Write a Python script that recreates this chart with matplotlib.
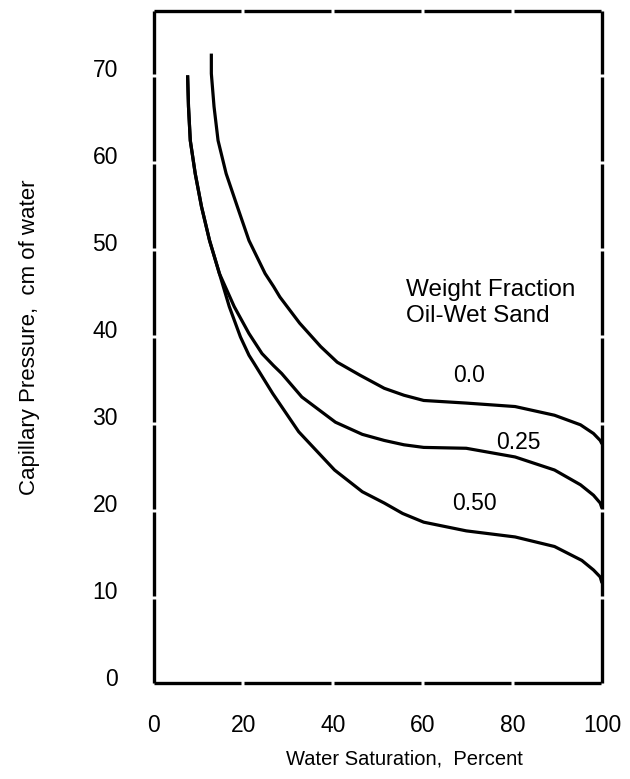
import matplotlib
matplotlib.use("Agg")
import matplotlib.pyplot as plt

plt.rcParams['font.family'] = ['Liberation Sans', 'DejaVu Sans']
plt.rcParams['lines.scale_dashes'] = False

# ---- data ----
x_00 = [12.8, 12.8, 13.4, 14.3, 16.1, 18.6, 21.2, 24.8, 26.7, 28.1, 32.5, 37.2, 40.9,
        46.0, 51.4, 55.8, 60.2, 69.7, 80.6, 89.4, 95.2, 98.1, 99.6, 100.0]
y_00 = [71.7, 69.4, 65.6, 61.7, 57.9, 54.1, 50.2, 46.4, 44.9, 43.7, 40.7, 38.0, 36.2,
        34.7, 33.2, 32.4, 31.8, 31.5, 31.1, 30.1, 29.0, 28.0, 27.2, 26.8]

x_25 = [7.5, 7.7, 8.1, 9.2, 10.6, 12.4, 14.6, 17.9, 21.2, 24.1, 26.7, 28.5, 33.0,
        40.5, 46.5, 51.4, 55.8, 60.2, 69.7, 80.6, 89.4, 95.2, 98.1, 99.6, 100.0]
y_25 = [69.2, 65.6, 61.7, 57.9, 54.1, 50.2, 46.4, 42.6, 39.5, 37.2, 35.8, 34.9, 32.2,
        29.3, 27.9, 27.2, 26.7, 26.4, 26.3, 25.3, 23.8, 22.1, 20.9, 20.0, 19.4]

x_50 = [7.5, 7.7, 8.1, 9.2, 10.6, 12.4, 14.6, 16.8, 19.3, 21.2, 22.3, 26.5, 32.3,
        40.3, 46.5, 51.4, 55.5, 60.2, 69.7, 80.6, 89.4, 95.5, 98.1, 99.6, 100.0]
y_50 = [69.2, 65.6, 61.7, 57.9, 54.1, 50.2, 46.4, 42.6, 39.1, 37.0, 36.1, 32.6, 28.2,
        23.8, 21.3, 20.0, 18.8, 17.8, 16.8, 16.1, 15.0, 13.4, 12.3, 11.5, 10.8]

curve_labels = ["0.0", "0.25", "0.50"]
label_x = [70.4, 81.3, 71.5]
label_y = [34.7, 27.0, 20.0]

x_ticks = [0, 20, 40, 60, 80, 100]
y_ticks = [0, 10, 20, 30, 40, 50, 60, 70]

# ---- figure ----
fig = plt.figure(figsize=(6.3, 7.79), dpi=100)
ax = fig.add_axes([154 / 630, 1 - 683 / 779, 448 / 630, 672 / 779])

lw = 2.3
for xs, ys in [(x_00, y_00), (x_25, y_25), (x_50, y_50)]:
    ax.plot(xs, ys, color='black', lw=lw, solid_capstyle='butt',
            solid_joinstyle='round', zorder=3)

ax.set_xlim(2, 100)
ax.set_ylim(-0.7, 76.6)
ax.set_xticks(x_ticks)
ax.set_yticks(y_ticks)
ax.set_xticklabels([str(v) for v in x_ticks])
ax.set_yticklabels([str(v) for v in y_ticks])
ax.tick_params(axis='both', length=0, labelsize=16.5)
ax.tick_params(axis='y', pad=26)
ax.tick_params(axis='x', pad=22)

# thin white vertical breaks, as in the scanned original
ax.grid(axis='x', color='white', lw=1.5, zorder=4)
ax.set_axisbelow(False)

px = 0.72
for name, on, off in [('left', 84, 3), ('right', 84, 3), ('bottom', 87, 3), ('top', 87, 3)]:
    sp = ax.spines[name]
    sp.set_zorder(6)
    sp.set_linewidth(2.4)
    sp.set_linestyle((0, (on * px, off * px)))
    sp.set_capstyle('butt')

ax.set_xlabel("Water Saturation,  Percent", fontsize=14.5)
ax.xaxis.set_label_coords(0.558, -0.099)
ax.set_ylabel("Capillary Pressure,  cm of water", fontsize=16)
ax.yaxis.set_label_coords(-0.254, 0.515)

ax.text(56.3, 43.0, "Weight Fraction\nOil-Wet Sand", fontsize=17.5, ha='left', va='center',
        linespacing=1.2)
for t, lx, ly in zip(curve_labels, label_x, label_y):
    ax.text(lx, ly, t, fontsize=16.5, ha='center', va='center')

fig.savefig("out.png", dpi=100)
